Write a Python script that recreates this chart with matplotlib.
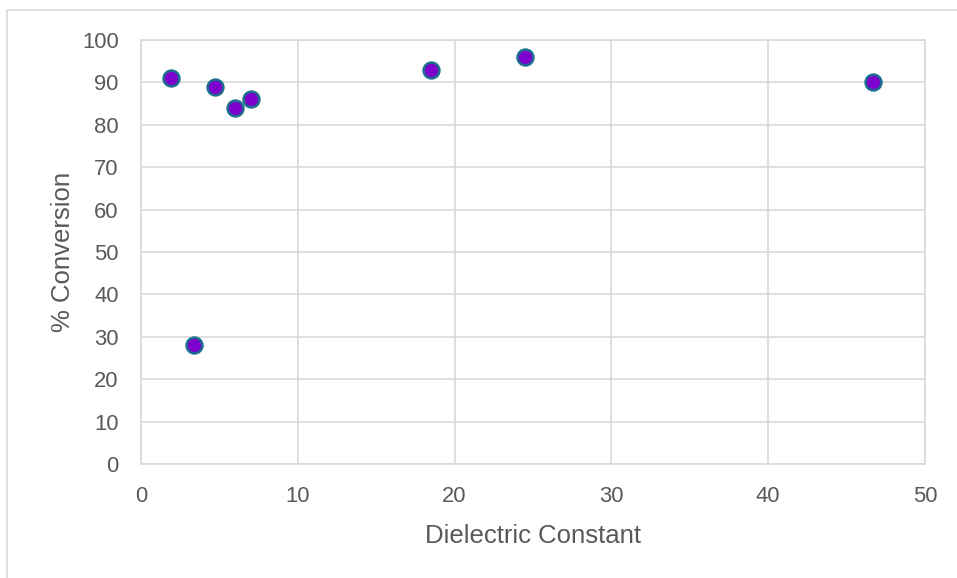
import matplotlib
matplotlib.use("Agg")
import matplotlib.pyplot as plt
from matplotlib.patches import Rectangle

# Solvent dielectric constant vs. conversion
dielectric = [1.9, 3.4, 4.7, 6.0, 7.0, 18.5, 24.5, 46.7]
conversion = [91, 28, 89, 84, 86, 93, 96, 90]

x_ticks = [0, 10, 20, 30, 40, 50]
y_ticks = [0, 10, 20, 30, 40, 50, 60, 70, 80, 90, 100]

W, H = 957, 578
fig = plt.figure(figsize=(W / 100, H / 100), dpi=100)
plt.rcParams['font.family'] = ['Liberation Sans', 'DejaVu Sans']

# chart frame
fig.patches.append(Rectangle((7 / W, -0.1), 1.2, 1 - 10 / H + 0.1, transform=fig.transFigure,
                             fill=False, edgecolor='#D9D9D9', linewidth=1.2))

ax = fig.add_axes([141 / W, (H - 464) / H, (925 - 141) / W, (464 - 40) / H])
ax.scatter(dielectric, conversion, s=130, facecolor='#7E00CC', edgecolor='#1D6E8E',
           linewidths=1.8, zorder=3)

ax.set_xlim(0, 50)
ax.set_ylim(0, 100)
ax.set_xticks(x_ticks)
ax.set_yticks(y_ticks)
ax.grid(True, color='#D9D9D9', linewidth=1.2)
ax.set_axisbelow(True)
for sp in ax.spines.values():
    sp.set_color('#D9D9D9')
    sp.set_linewidth(1.2)
ax.tick_params(length=0, labelsize=15.8, labelcolor='#595959')
ax.tick_params(axis='x', pad=16)
ax.tick_params(axis='y', pad=16)

ax.set_xlabel('Dielectric Constant', fontsize=18.5, color='#595959', labelpad=12)
ax.set_ylabel('% Conversion', fontsize=18.5, color='#595959', labelpad=5)

fig.savefig('out.png', dpi=100)
